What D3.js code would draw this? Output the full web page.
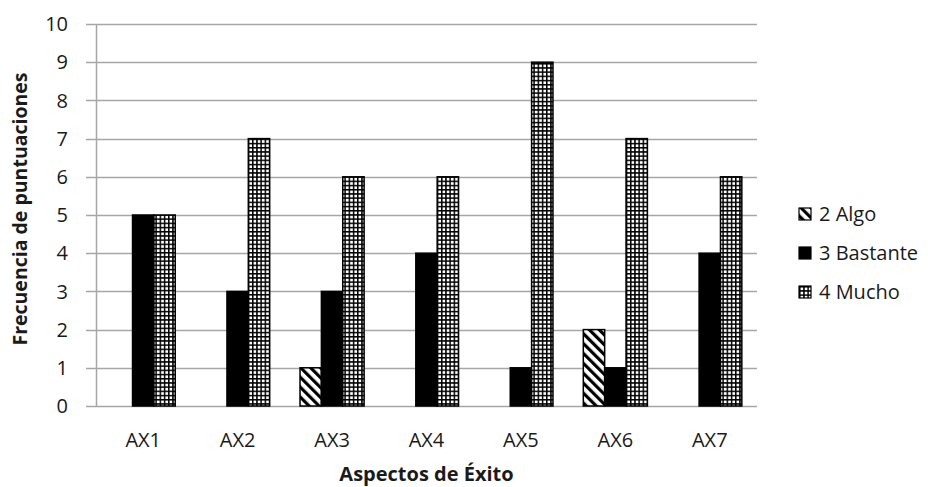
<!DOCTYPE html>
<html>
<head>
<meta charset="utf-8">
<script src="https://cdn.jsdelivr.net/npm/d3@7"></script>
<style>
  body { margin: 0; background: #fff; }
  svg { display: block; font-family: 'Open Sans', sans-serif; }
</style>
</head>
<body>
<div id="chart"></div>
<script>
// ── Frecuencia de puntuaciones por aspecto ──────────────────
const categories = ['AX1', 'AX2', 'AX3', 'AX4', 'AX5', 'AX6', 'AX7'];
const seriesNames = ['2 Algo', '3 Bastante', '4 Mucho'];
const algo     = [0, 0, 1, 0, 0, 2, 0];
const bastante = [5, 3, 3, 4, 1, 1, 4];
const mucho    = [5, 7, 6, 6, 9, 7, 6];
const yTicks = [0, 1, 2, 3, 4, 5, 6, 7, 8, 9, 10];

const width = 937, height = 487;
const margin = { top: 24, right: 180, bottom: 81, left: 96 };
const textColor = '#1a1a1a';

const svg = d3.select('#chart').append('svg')
    .attr('width', width)
    .attr('height', height);

// Patterns
const defs = svg.append('defs');
const diag = defs.append('pattern')
    .attr('id', 'pat-algo')
    .attr('patternUnits', 'userSpaceOnUse')
    .attr('width', 7).attr('height', 7)
    .attr('patternTransform', 'rotate(-45)');
diag.append('rect').attr('width', 7).attr('height', 7).attr('fill', '#fff');
diag.append('rect').attr('width', 3.2).attr('height', 7).attr('fill', '#000');

const grid = defs.append('pattern')
    .attr('id', 'pat-mucho')
    .attr('patternUnits', 'userSpaceOnUse')
    .attr('width', 4.2).attr('height', 4.2);
grid.append('rect').attr('width', 4.2).attr('height', 4.2).attr('fill', '#000');
grid.append('rect').attr('x', 1.5).attr('y', 1.5).attr('width', 2.7).attr('height', 2.7).attr('fill', '#fff');

const fills = ['url(#pat-algo)', '#000', 'url(#pat-mucho)'];

const x = d3.scaleBand()
    .domain(categories)
    .range([margin.left, width - margin.right])
    .paddingInner(0)
    .paddingOuter(0);

const xs = d3.scaleBand()
    .domain(seriesNames)
    .range([0, x.bandwidth()])
    .paddingInner(0)
    .paddingOuter(0.71);

const y = d3.scaleLinear()
    .domain([0, 10])
    .range([height - margin.bottom, margin.top]);

// Gridlines
svg.append('g')
    .selectAll('line')
    .data(yTicks)
    .join('line')
    .attr('x1', margin.left - 10)
    .attr('x2', width - margin.right)
    .attr('y1', d => Math.round(y(d)) + 0.5)
    .attr('y2', d => Math.round(y(d)) + 0.5)
    .attr('stroke', '#a6a6a6')
    .attr('stroke-width', 1.5);

// Y axis line
svg.append('line')
    .attr('x1', margin.left + 0.5).attr('x2', margin.left + 0.5)
    .attr('y1', y(10)).attr('y2', y(0))
    .attr('stroke', '#a6a6a6')
    .attr('stroke-width', 1.5);

// Y tick labels
svg.append('g')
    .selectAll('text')
    .data(yTicks)
    .join('text')
    .attr('x', 68)
    .attr('y', d => y(d))
    .attr('dy', '0.36em')
    .attr('text-anchor', 'end')
    .attr('font-size', '20px')
    .attr('fill', textColor)
    .text(d => d);

// Bars
const series = [algo, bastante, mucho];
series.forEach((vals, i) => {
    svg.append('g')
        .selectAll('rect')
        .data(vals.map((v, j) => ({ cat: categories[j], v })).filter(d => d.v > 0))
        .join('rect')
        .attr('x', d => x(d.cat) + xs(seriesNames[i]))
        .attr('y', d => y(d.v))
        .attr('width', xs.bandwidth())
        .attr('height', d => y(0) - y(d.v))
        .attr('fill', fills[i])
        .attr('stroke', '#000')
        .attr('stroke-width', 1.5);
});

// X labels
svg.append('g')
    .selectAll('text')
    .data(categories)
    .join('text')
    .attr('x', d => x(d) + x.bandwidth() / 2)
    .attr('y', 447)
    .attr('text-anchor', 'middle')
    .attr('font-size', '20px')
    .attr('fill', textColor)
    .text(d => d);

// Axis titles
svg.append('text')
    .attr('x', (margin.left + width - margin.right) / 2)
    .attr('y', 481)
    .attr('text-anchor', 'middle')
    .attr('font-size', '20px')
    .attr('font-weight', 'bold')
    .attr('fill', textColor)
    .text('Aspectos de Éxito');

svg.append('text')
    .attr('transform', `translate(27, ${(margin.top + height - margin.bottom) / 2 - 6}) rotate(-90)`)
    .attr('text-anchor', 'middle')
    .attr('font-size', '19.5px')
    .attr('font-weight', 'bold')
    .attr('fill', textColor)
    .text('Frecuencia de puntuaciones');

// Legend
const legend = svg.append('g')
    .selectAll('g')
    .data(seriesNames)
    .join('g')
    .attr('transform', (d, i) => `translate(799, ${208 + i * 39})`);

legend.append('rect')
    .attr('width', 12).attr('height', 12)
    .attr('fill', (d, i) => fills[i])
    .attr('stroke', '#000')
    .attr('stroke-width', 1.2);

legend.append('text')
    .attr('x', 20)
    .attr('y', 6)
    .attr('dy', '0.36em')
    .attr('font-size', '20px')
    .attr('fill', textColor)
    .text(d => d);
</script>
</body>
</html>
